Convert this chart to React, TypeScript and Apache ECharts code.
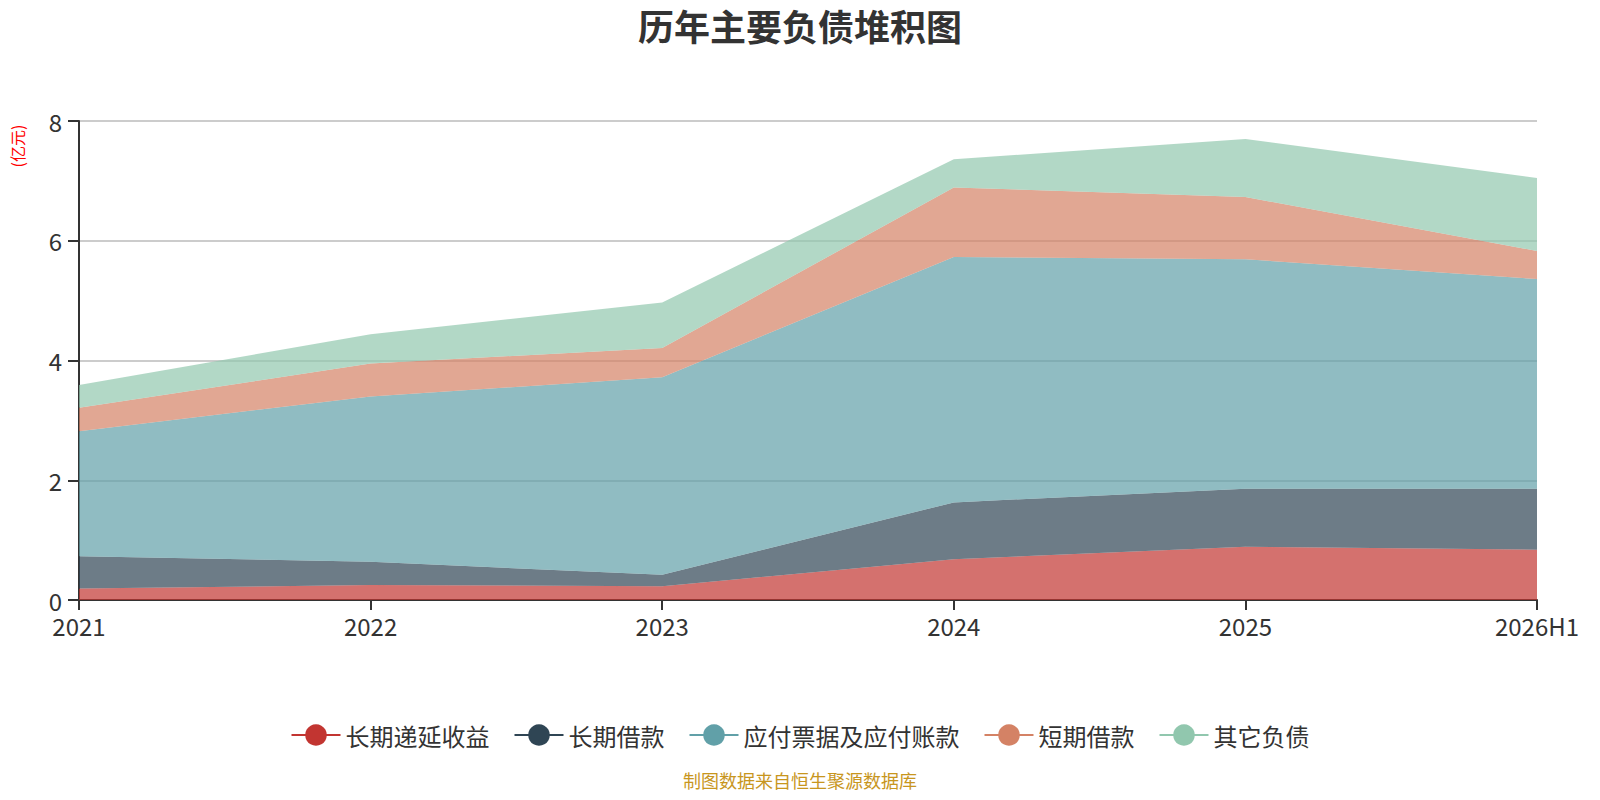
import React, { useEffect, useRef } from "react";
import * as echarts from "echarts";

const categories = ["2021", "2022", "2023", "2024", "2025", "2026H1"];
const seriesNames = ["长期递延收益", "长期借款", "应付票据及应付账款", "短期借款", "其它负债"];
const deferredIncome = [0.19, 0.25, 0.23, 0.68, 0.89, 0.84];
const longTermLoans = [0.54, 0.39, 0.19, 0.95, 0.97, 1.02];
const payables = [2.09, 2.76, 3.3, 4.1, 3.83, 3.5];
const shortTermLoans = [0.39, 0.55, 0.49, 1.16, 1.04, 0.47];
const otherLiabilities = [0.38, 0.49, 0.76, 0.47, 0.97, 1.22];
const seriesValues = [deferredIncome, longTermLoans, payables, shortTermLoans, otherLiabilities];
const colors = ["#c23531", "#2f4554", "#61a0a8", "#d48265", "#91c7ae"];

const FONT = "'Noto Sans CJK SC', 'Noto Sans', sans-serif";

const App: React.FC = () => {
    const chartRef = useRef<HTMLDivElement>(null);

    useEffect(() => {
        const chart = echarts.init(chartRef.current!, null, { renderer: "svg" });

        chart.setOption({
            animation: false,
            color: colors,
            textStyle: { fontFamily: FONT },
            title: {
                text: "历年主要负债堆积图",
                left: "center",
                top: 2,
                textStyle: { fontSize: 36, fontWeight: "bold", color: "#333", fontFamily: FONT },
            },
            legend: {
                data: seriesNames,
                left: "center",
                top: 718,
                itemWidth: 49,
                itemHeight: 27,
                itemGap: 24,
                textStyle: { fontSize: 24, color: "#333", fontFamily: FONT },
                lineStyle: { width: 2 },
            },
            grid: { left: 79, right: 63, top: 121, bottom: 200 },
            xAxis: {
                type: "category",
                data: categories,
                boundaryGap: false,
                axisLine: { lineStyle: { color: "#333", width: 2 } },
                axisTick: { length: 10, lineStyle: { width: 2 } },
                axisLabel: { fontSize: 24, lineHeight: 22, color: "#333", margin: 14 },
            },
            yAxis: {
                type: "value",
                min: 0,
                max: 8,
                interval: 2,
                axisLine: { show: true, lineStyle: { color: "#333", width: 2 } },
                axisTick: { show: true, length: 11, lineStyle: { width: 2 } },
                axisLabel: { fontSize: 24, lineHeight: 18, color: "#333", margin: 17 },
                splitLine: { lineStyle: { color: "#ccc", width: 2 } },
            },
            graphic: [
                {
                    type: "text",
                    x: 17,
                    y: 146,
                    rotation: Math.PI / 2,
                    style: {
                        text: "(亿元)",
                        fill: "#ff0000",
                        fontSize: 16,
                        fontFamily: FONT,
                        textAlign: "center",
                        textVerticalAlign: "middle",
                    },
                },
                {
                    type: "text",
                    left: "center",
                    top: 771,
                    style: {
                        text: "制图数据来自恒生聚源数据库",
                        fill: "#c8961e",
                        fontSize: 18,
                        fontFamily: FONT,
                    },
                },
            ],
            series: seriesNames.map((name, i) => ({
                name,
                type: "line",
                stack: "total",
                data: seriesValues[i],
                symbol: "circle",
                showSymbol: false,
                lineStyle: { width: 0 },
                areaStyle: { opacity: 0.7 },
            })),
        });

        const resize = () => chart.resize();
        window.addEventListener("resize", resize);
        return () => {
            chart.dispose();
            window.removeEventListener("resize", resize);
        };
    }, []);

    return <div ref={chartRef} style={{ width: "1600px", height: "800px", margin: "-8px" }} />;
};

export default App;
